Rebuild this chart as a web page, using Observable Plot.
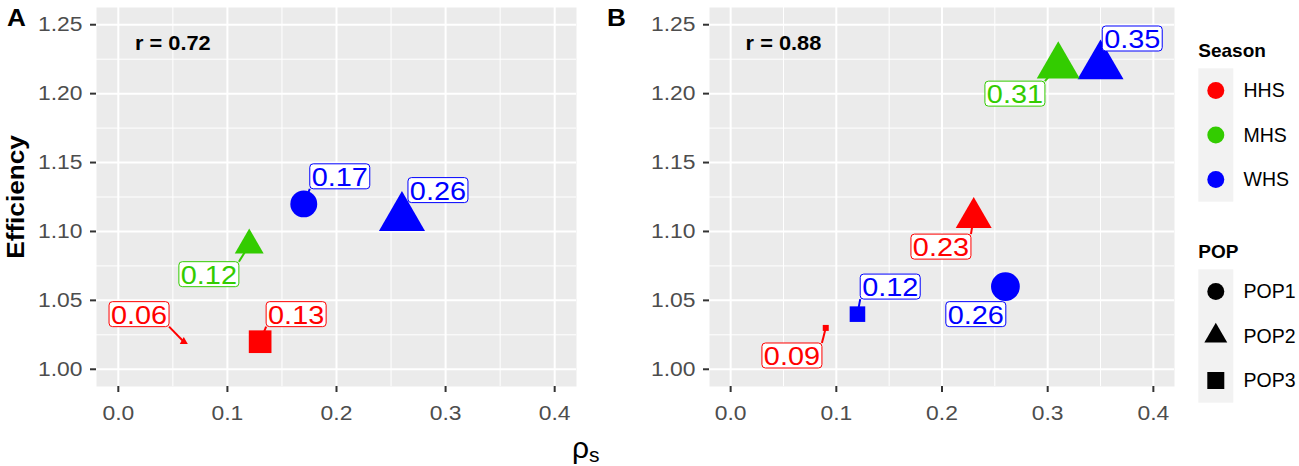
<!DOCTYPE html>
<html>
<head>
<meta charset="utf-8">
<script src="https://cdn.jsdelivr.net/npm/d3@7"></script>
<script src="https://cdn.jsdelivr.net/npm/@observablehq/plot@0.6"></script>
<style>
  body { margin: 0; background: #ffffff; }
  #chart { position: relative; width: 1299px; height: 466px; overflow: hidden; background: #ffffff;
           font-family: "Liberation Sans", Arial, Helvetica, sans-serif; }
  #chart svg { position: absolute; top: 0; }
</style>
</head>
<body>
<div id="chart"></div>
<script>
// ---------------- data ----------------
const seasons = ["HHS", "MHS", "WHS"];
const seasonColors = ["#FF0000", "#33CC00", "#0000FF"];
const pops = ["POP1", "POP2", "POP3"];

const xMajor = [0, 0.1, 0.2, 0.3, 0.4];
const xMinor = [0.05, 0.15, 0.25, 0.35];
const yMajor = [1.00, 1.05, 1.10, 1.15, 1.20, 1.25];
const yMinor = [1.025, 1.075, 1.125, 1.175, 1.225];

// Panel A
const aSeason = ["HHS", "HHS", "MHS", "WHS", "WHS"];
const aPop    = ["POP2", "POP3", "POP2", "POP1", "POP2"];
const aRho    = [0.06, 0.13, 0.12, 0.17, 0.26];
const aEff    = [1.02, 1.02, 1.09, 1.12, 1.11];
const aLabelX = [0.019, 0.163, 0.083, 0.203, 0.293];
const aLabelY = [1.040, 1.040, 1.069, 1.140, 1.130];

// Panel B
const bSeason = ["HHS", "WHS", "HHS", "WHS", "MHS", "WHS"];
const bPop    = ["POP3", "POP3", "POP2", "POP1", "POP2", "POP2"];
const bRho    = [0.09, 0.12, 0.23, 0.26, 0.31, 0.35];
const bEff    = [1.03, 1.04, 1.11, 1.06, 1.22, 1.22];
const bLabelX = [0.058, 0.151, 0.199, 0.232, 0.269, 0.380];
const bLabelY = [1.010, 1.060, 1.089, 1.040, 1.200, 1.240];

const panelTags  = ["A", "B"];
const corrLabels = ["r = 0.72", "r = 0.88"];
const corrX = [0.05, 0.05];
const corrY = [1.236, 1.236];
const yTitle = "Efficiency";

// ---------------- styling ----------------
const FONT = '"Liberation Sans", Arial, Helvetica, sans-serif';
const STRETCH = 1.09;
const BOX_W = 60, BOX_H = 25, BOX_R = 3.5;

const rSquare = { draw(ctx, size) { const s = Math.sqrt(size / Math.PI);
  ctx.moveTo(-s, -s); ctx.lineTo(s, -s); ctx.lineTo(s, s); ctx.lineTo(-s, s); ctx.closePath(); } };
const shapeRange = [d3.symbolCircle, d3.symbolTriangle, rSquare];

const boxSymbol = { draw(ctx) {
  const w = BOX_W / 2, h = BOX_H / 2, r = BOX_R;
  ctx.moveTo(-w + r, -h); ctx.lineTo(w - r, -h); ctx.arcTo(w, -h, w, -h + r, r);
  ctx.lineTo(w, h - r); ctx.arcTo(w, h, w - r, h, r);
  ctx.lineTo(-w + r, h); ctx.arcTo(-w, h, -w, h - r, r);
  ctx.lineTo(-w, -h + r); ctx.arcTo(-w, -h, -w + r, -h, r); ctx.closePath(); } };

const chart = document.getElementById("chart");

// widen glyphs horizontally about each text's own anchor
function stretchText(svg, s = STRETCH) {
  svg.querySelectorAll("text").forEach(t => {
    let x = parseFloat(t.getAttribute("x"));
    if (!isFinite(x) || /[a-z%]/i.test(t.getAttribute("x") || "")) x = 0;
    const tr = t.getAttribute("transform") || "";
    t.setAttribute("transform", `${tr} translate(${x},0) scale(${s},1) translate(${-x},0)`.trim());
  });
}

function buildPanel(p) {
  const data = p.rho.map((v, i) => ({season: p.season[i], pop: p.pop[i], rho: v, eff: p.eff[i], lx: p.labelX[i], ly: p.labelY[i]}));
  const [rmin, rmax] = d3.extent(p.rho);
  const rt = d => Math.sqrt((d.rho - rmin) / (rmax - rmin));
  const common = {
    width: p.width, height: 466, marginLeft: p.marginLeft, marginRight: p.marginRight, marginTop: 7, marginBottom: 80,
    x: {domain: [-0.02, 0.42]},
    y: {domain: [0.9875, 1.2625]},
    color: {domain: seasons, range: seasonColors},
    symbol: {domain: pops, range: shapeRange},
    r: {type: "linear", domain: [0, 1], range: [3, 17.1]},
    style: {fontFamily: FONT, background: "transparent", overflow: "visible", fontSize: "21px"}
  };
  const pointMark = Plot.dot(data, {x: "rho", y: "eff", r: rt, fill: "season", symbol: "pop"});
  const probe = Plot.plot({...common, marks: [pointMark]});
  const sx = probe.scale("x"), sy = probe.scale("y"), sr = probe.scale("r");
  const links = [];
  data.forEach(d => {
    const px = sx.apply(d.rho), py = sy.apply(d.eff);
    const bx = sx.apply(d.lx), by = sy.apply(d.ly);
    const nx = Math.max(bx - BOX_W / 2, Math.min(px, bx + BOX_W / 2));
    const ny = Math.max(by - BOX_H / 2, Math.min(py, by + BOX_H / 2));
    const dist = Math.hypot(nx - px, ny - py);
    if (dist > sr.apply(rt(d)) + 1) links.push({...d, x2: sx.invert(nx), y2: sy.invert(ny)});
  });

  const marks = [
    Plot.frame({fill: "#EBEBEB", stroke: "none"}),
    Plot.gridX({ticks: xMinor, stroke: "#ffffff", strokeOpacity: 1, strokeWidth: 1}),
    Plot.gridY({ticks: yMinor, stroke: "#ffffff", strokeOpacity: 1, strokeWidth: 1}),
    Plot.gridX({ticks: xMajor, stroke: "#ffffff", strokeOpacity: 1, strokeWidth: 2}),
    Plot.gridY({ticks: yMajor, stroke: "#ffffff", strokeOpacity: 1, strokeWidth: 2}),
    Plot.axisX({ticks: xMajor, tickFormat: d3.format(".1f"), tickSize: 6, tickPadding: 13, fontSize: 21,
                color: "#4D4D4D", stroke: "#333333", strokeWidth: 2, label: null}),
    Plot.axisY({ticks: yMajor, tickFormat: d3.format(".2f"), tickSize: 6, tickPadding: 8, fontSize: 21,
                color: "#4D4D4D", stroke: "#333333", strokeWidth: 2, label: null}),
    Plot.link(links, {x1: "rho", y1: "eff", x2: "x2", y2: "y2", stroke: "season", strokeWidth: 2}),
    pointMark,
    Plot.dot(data, {x: "lx", y: "ly", symbol: boxSymbol, r: 10, fill: "white", stroke: "season", strokeWidth: 1}),
    Plot.text(data, {x: "lx", y: "ly", text: d => d.rho.toFixed(2), fill: "season", fontSize: 26.5, dy: 1}),
    Plot.text([p.corr], {x: p.corrX, y: p.corrY, text: d => d, fontWeight: "bold", fontSize: 20, fill: "black"}),
    Plot.text([p.tag], {frameAnchor: "top-left", dx: 6.5 - p.marginLeft, dy: 1, textAnchor: "start", lineAnchor: "top",
                        text: d => d, fontSize: 24, fontWeight: "bold", fill: "black"})
  ];
  if (p.yTitle) {
    marks.push(Plot.text([p.yTitle], {frameAnchor: "left", dx: 15.5 - p.marginLeft, rotate: -90, text: d => d,
      fontWeight: "bold", fontSize: 24, fill: "black", textAnchor: "middle", lineAnchor: "middle"}));
  }
  const svg = Plot.plot({...common, marks});
  svg.style.position = "absolute";
  svg.style.left = p.left + "px";
  svg.style.top = "0px";
  stretchText(svg);
  chart.appendChild(svg);
}

buildPanel({season: aSeason, pop: aPop, rho: aRho, eff: aEff, labelX: aLabelX, labelY: aLabelY,
  tag: panelTags[0], corr: corrLabels[0], corrX: corrX[0], corrY: corrY[0], yTitle,
  left: 0, width: 590, marginLeft: 96, marginRight: 14});
buildPanel({season: bSeason, pop: bPop, rho: bRho, eff: bEff, labelX: bLabelX, labelY: bLabelY,
  tag: panelTags[1], corr: corrLabels[1], corrX: corrX[1], corrY: corrY[1], yTitle: null,
  left: 600, width: 590, marginLeft: 109, marginRight: 16});

// ---------------- shared x title ----------------
const xt = d3.create("svg").attr("width", 1299).attr("height", 466)
  .style("left", "0px").style("pointer-events", "none").attr("font-family", FONT);
const xtText = xt.append("text").attr("x", 572).attr("y", 458).attr("font-size", 30).attr("fill", "black");
xtText.append("tspan").text("ρ");
xtText.append("tspan").attr("font-size", 21).attr("dy", 4).text("s");
chart.appendChild(xt.node());

// ---------------- legend ----------------
const leg = d3.create("svg").attr("width", 109).attr("height", 466)
  .style("left", "1190px").attr("font-family", FONT);
function legendBlock(title, items, top, symFor, colFor) {
  leg.append("text").attr("x", 8.3).attr("y", top).attr("font-size", 19).attr("font-weight", "bold")
    .attr("fill", "black").text(title);
  const ky = top + 11.3;
  leg.append("rect").attr("x", 8.3).attr("y", ky).attr("width", 35).attr("height", 133.4).attr("fill", "#F2F2F2");
  items.forEach((it, i) => {
    const cy = ky + 22.2 + i * 44.5;
    leg.append("path").attr("transform", `translate(25.8,${cy})`)
      .attr("d", d3.symbol(symFor(i), 8.5 * 8.5 * Math.PI)()).attr("fill", colFor(i));
    leg.append("text").attr("x", 53.5).attr("y", cy).attr("dy", "0.35em").attr("font-size", 19.5)
      .attr("fill", "black").text(it);
  });
}
legendBlock("Season", seasons, 57, () => d3.symbolCircle, i => seasonColors[i]);
legendBlock("POP", pops, 258, i => shapeRange[i], () => "black");
stretchText(leg.node(), 1.0);
chart.appendChild(leg.node());
</script>
</body>
</html>
